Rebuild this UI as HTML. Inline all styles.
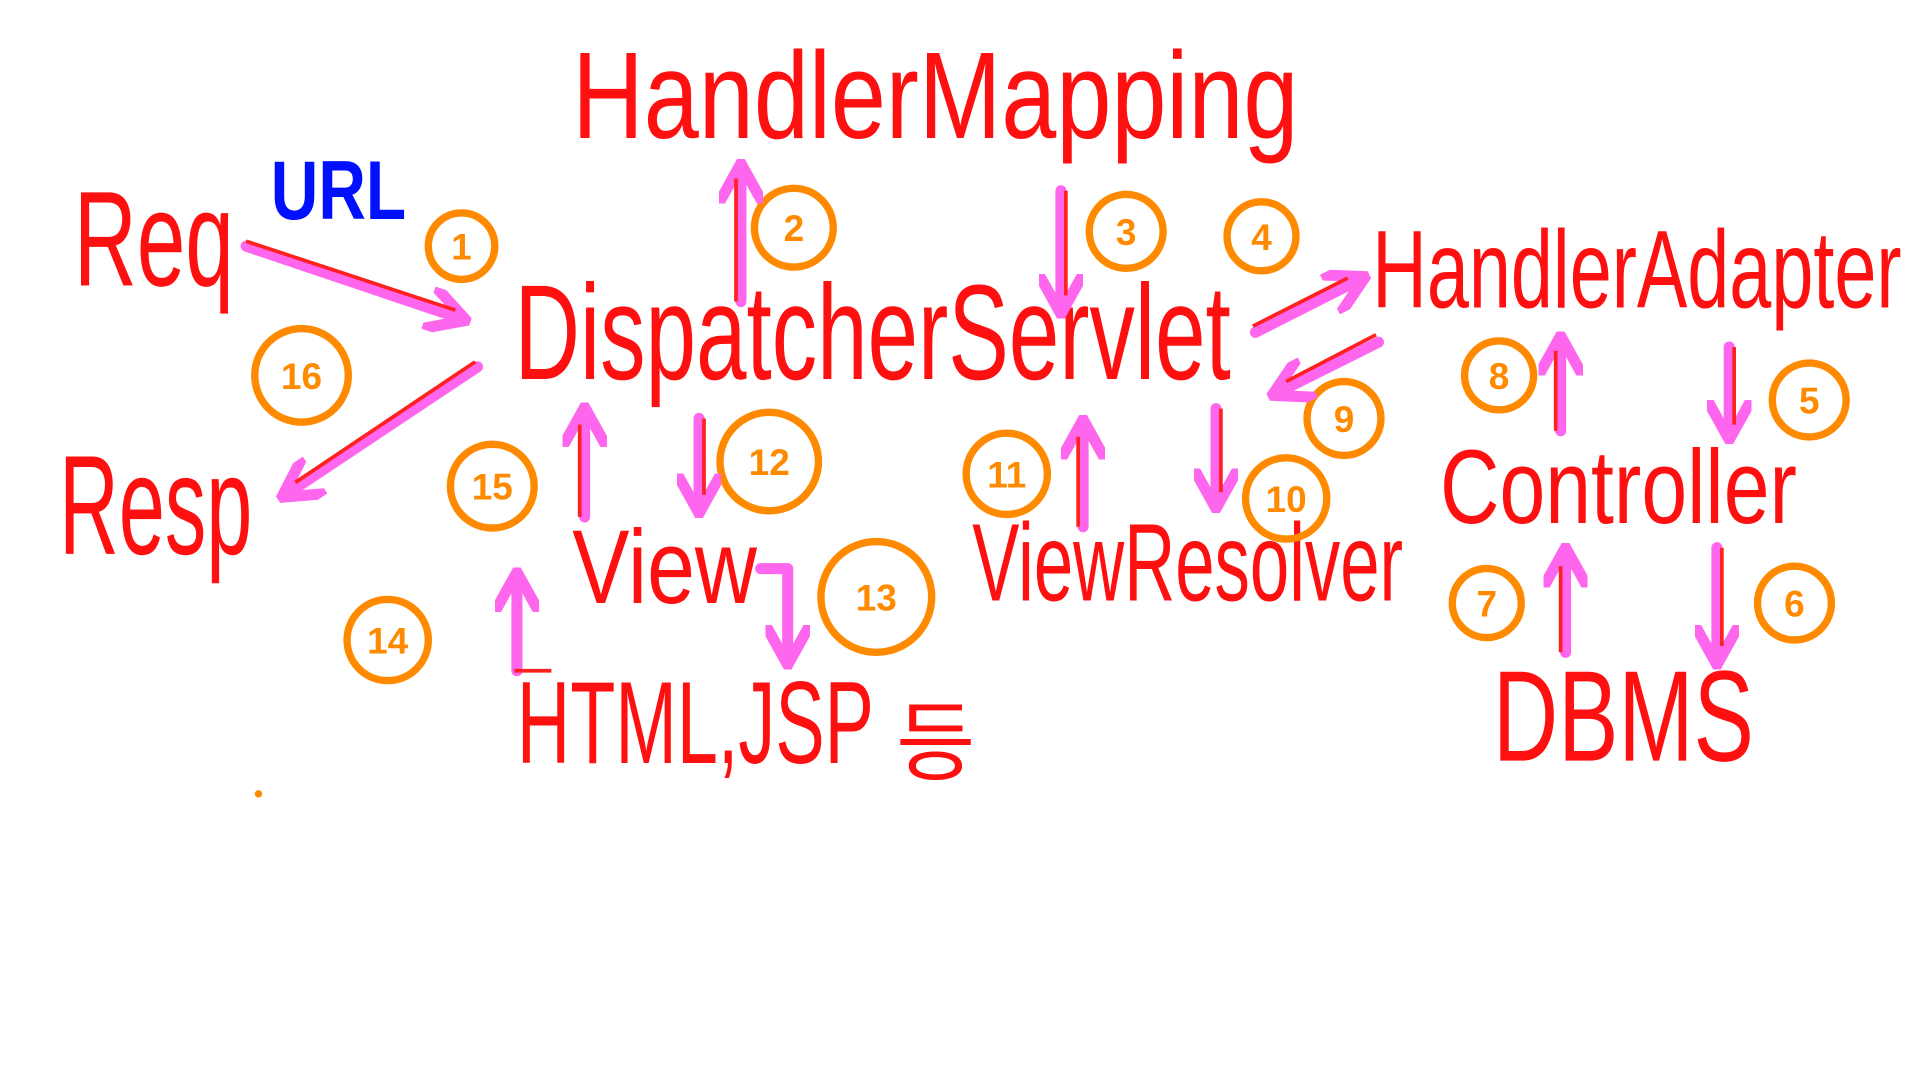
<!DOCTYPE html>
<html><head><meta charset="utf-8"><style>
html,body{margin:0;padding:0;background:#fff;width:1920px;height:1080px;overflow:hidden}
svg{display:block}
text{font-family:"Liberation Sans","Noto Sans CJK KR",sans-serif;fill:#ff1010}
.c{fill:none;stroke:#ff8a00;stroke-width:6}
.n{fill:#ff8a00;font-size:30px;font-weight:bold}
.a{stroke:#ff66ee;stroke-width:9;fill:none;stroke-linecap:round;stroke-linejoin:round}
.ar{stroke:#ff2020;stroke-width:3;fill:none}
</style></head><body>
<svg width="1920" height="1080" viewBox="0 0 1560 877.5">
<defs>
<marker id="h" viewBox="0 0 10 10" refX="7" refY="5" markerWidth="4" markerHeight="4" orient="auto"><path d="M0,0 L9,5 L0,10" fill="none" stroke="#ff66ee" stroke-width="2.5"/></marker>
</defs>
<text x="465" y="112" font-size="100" textLength="590" lengthAdjust="spacingAndGlyphs">HandlerMapping</text>
<text x="60" y="232" font-size="110" textLength="130" lengthAdjust="spacingAndGlyphs">Req</text>
<text x="220" y="178" font-size="68" font-weight="bold" style="fill:#0010ff" textLength="110" lengthAdjust="spacingAndGlyphs">URL</text>
<text x="418" y="308" font-size="110" textLength="582" lengthAdjust="spacingAndGlyphs">DispatcherServlet</text>
<text x="48" y="450" font-size="115" textLength="157" lengthAdjust="spacingAndGlyphs">Resp</text>
<text x="1115" y="250" font-size="90" textLength="430" lengthAdjust="spacingAndGlyphs">HandlerAdapter</text>
<text x="1170" y="425" font-size="85" textLength="290" lengthAdjust="spacingAndGlyphs">Controller</text>
<text x="1213" y="618" font-size="105" textLength="212" lengthAdjust="spacingAndGlyphs">DBMS</text>
<text x="465" y="490" font-size="85" textLength="150" lengthAdjust="spacingAndGlyphs">View</text>
<text x="790" y="488" font-size="90" textLength="350" lengthAdjust="spacingAndGlyphs">ViewResolver</text>
<text x="420" y="620" font-size="95" textLength="290" lengthAdjust="spacingAndGlyphs">HTML,JSP</text>
<text x="728" y="628" font-size="70">등</text>

<g class="c">
<circle cx="375" cy="200" r="27"/><circle cx="245" cy="305" r="38"/>
<circle cx="645" cy="185" r="32"/><circle cx="915" cy="188" r="30"/>
<circle cx="1025" cy="192" r="28"/><circle cx="1092" cy="340" r="30"/>
<circle cx="1218" cy="305" r="28"/><circle cx="1470" cy="325" r="30"/>
<circle cx="1208" cy="490" r="28"/><circle cx="1458" cy="490" r="30"/>
<circle cx="400" cy="395" r="34"/><circle cx="625" cy="375" r="40"/>
<circle cx="818" cy="385" r="33"/><circle cx="1045" cy="405" r="33"/>
<circle cx="712" cy="485" r="45"/><circle cx="315" cy="520" r="33"/>
</g>
<g class="n" text-anchor="middle">
<text x="375" y="211" class="n">1</text><text x="245" y="316" class="n">16</text>
<text x="645" y="196" class="n">2</text><text x="915" y="199" class="n">3</text>
<text x="1025" y="203" class="n">4</text><text x="1092" y="351" class="n">9</text>
<text x="1218" y="316" class="n">8</text><text x="1470" y="336" class="n">5</text>
<text x="1208" y="501" class="n">7</text><text x="1458" y="501" class="n">6</text>
<text x="400" y="406" class="n">15</text><text x="625" y="386" class="n">12</text>
<text x="818" y="396" class="n">11</text><text x="1045" y="416" class="n">10</text>
<text x="712" y="496" class="n">13</text><text x="315" y="531" class="n">14</text>
</g>
<circle cx="210" cy="645" r="3" fill="#ff8a00"/>

<g class="a">
<path d="M200,200 L372,258" marker-end="url(#h)"/>
<path d="M388,298 L235,400" marker-end="url(#h)"/>
<path d="M602,245 L602,140" marker-end="url(#h)"/>
<path d="M862,155 L862,248" marker-end="url(#h)"/>
<path d="M1020,270 L1103,228" marker-end="url(#h)"/>
<path d="M1120,278 L1040,318" marker-end="url(#h)"/>
<path d="M1268,350 L1268,280" marker-end="url(#h)"/>
<path d="M1405,282 L1405,350" marker-end="url(#h)"/>
<path d="M1272,530 L1272,452" marker-end="url(#h)"/>
<path d="M1395,445 L1395,533" marker-end="url(#h)"/>
<path d="M475,420 L475,338" marker-end="url(#h)"/>
<path d="M568,340 L568,410" marker-end="url(#h)"/>
<path d="M880,428 L880,348" marker-end="url(#h)"/>
<path d="M988,332 L988,406" marker-end="url(#h)"/>
<path d="M618,462 L640,462 L640,533" marker-end="url(#h)"/>
<path d="M420,545 L420,472" marker-end="url(#h)"/>
</g>
<g class="ar">
<path d="M200,196 L370,252"/><path d="M386,294 L240,392"/>
<path d="M598,245 L598,145"/><path d="M866,155 L866,240"/>
<path d="M1018,265 L1095,226"/><path d="M1118,272 L1045,310"/>
<path d="M1264,350 L1264,285"/><path d="M1409,282 L1409,345"/>
<path d="M1268,530 L1268,460"/><path d="M1399,445 L1399,525"/>
<path d="M471,420 L471,345"/><path d="M572,340 L572,402"/>
<path d="M876,428 L876,355"/><path d="M992,332 L992,400"/>
<path d="M418,545 L448,545"/>
</g>
</svg>
</body></html>
